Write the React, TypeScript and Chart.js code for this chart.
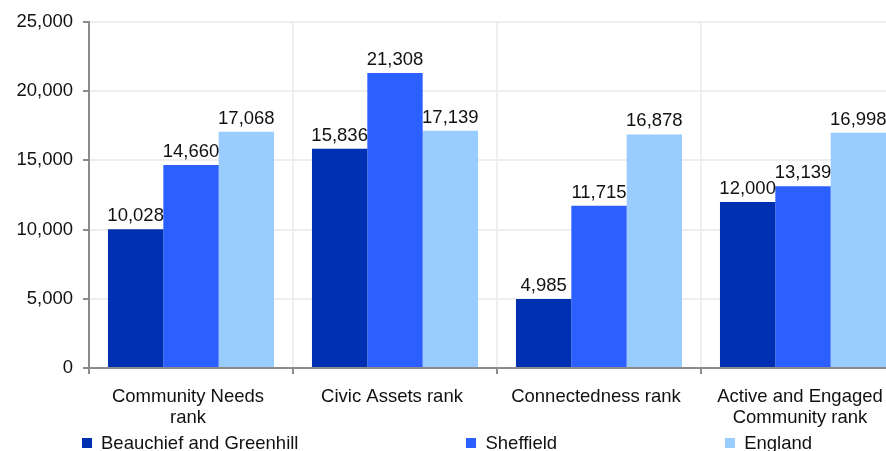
import React, { useEffect, useRef } from "react";
import { Chart, registerables } from "chart.js";

Chart.register(...registerables);

const categories: (string | string[])[] = [
  ["Community Needs", "rank"],
  "Civic Assets rank",
  "Connectedness rank",
  ["Active and Engaged", "Community rank"],
];
const seriesNames = ["Beauchief and Greenhill", "Sheffield", "England"];
const seriesColors = ["#0030B2", "#2C5FFF", "#99CCFF"];
const beauchief = [10028, 15836, 4985, 12000];
const sheffield = [14660, 21308, 11715, 13139];
const england = [17068, 17139, 16878, 16998];
const yTicks = [0, 5000, 10000, 15000, 20000, 25000];

const FONT = "'Liberation Sans', Arial, Helvetica, sans-serif";
const FS = 18.5;
const fmt = (v: number) => v.toLocaleString("en-US");

const valueLabels = {
  id: "valueLabels",
  afterDatasetsDraw(chart: any) {
    const ctx = chart.ctx;
    ctx.save();
    ctx.font = `${FS}px ${FONT}`;
    ctx.fillStyle = "#111";
    ctx.textAlign = "center";
    ctx.textBaseline = "alphabetic";
    chart.data.datasets.forEach((ds: any, i: number) => {
      const meta = chart.getDatasetMeta(i);
      meta.data.forEach((el: any, j: number) => {
        ctx.fillText(fmt(ds.data[j]), el.x, el.y - 8);
      });
    });
    ctx.restore();
  },
};

export default function App() {
  const ref = useRef<HTMLCanvasElement>(null);
  useEffect(() => {
    if (!ref.current) return;
    Chart.defaults.font.family = FONT;
    Chart.defaults.font.size = FS;
    Chart.defaults.color = "#111";
    const series = [beauchief, sheffield, england];
    const chart = new Chart(ref.current, {
      type: "bar",
      data: {
        labels: categories,
        datasets: series.map((d, i) => ({
          label: seriesNames[i],
          data: d,
          backgroundColor: seriesColors[i],
          borderWidth: 0,
          categoryPercentage: 0.814,
          barPercentage: 1,
        })),
      },
      options: {
        animation: false,
        responsive: false,
        maintainAspectRatio: false,
        devicePixelRatio: 1,
        layout: { padding: { top: 22, left: 0, right: 0, bottom: 0 } },
        plugins: { legend: { display: false }, tooltip: { enabled: false } },
        scales: {
          x: {
            grid: {
              color: "#eeeeee",
              lineWidth: 2,
              tickColor: "#8c8c8c",
              tickLength: 6,
              tickWidth: 2,
              offset: true,
            },
            border: { color: "#8c8c8c", width: 2 },
            ticks: {
              padding: 13,
              labelOffset: -3,
              font: { size: FS, lineHeight: 1.12 },
              color: "#111",
              maxRotation: 0,
              autoSkip: false,
            },
            afterFit: (s: any) => {
              s.height = 83;
            },
          },
          y: {
            min: yTicks[0],
            max: yTicks[yTicks.length - 1],
            afterBuildTicks: (s: any) => {
              s.ticks = yTicks.map((v) => ({ value: v }));
            },
            grid: {
              color: "#eeeeee",
              lineWidth: 2,
              tickColor: "#8c8c8c",
              tickLength: 6,
              tickWidth: 2,
            },
            border: { color: "#8c8c8c", width: 2 },
            ticks: {
              padding: 10,
              color: "#111",
              font: { size: FS },
              callback: (v: any) => fmt(Number(v)),
            },
            afterFit: (s: any) => {
              s.width = 89;
            },
          },
        },
      },
      plugins: [valueLabels],
    });
    return () => chart.destroy();
  }, []);

  return (
    <div style={{ position: "absolute", left: 0, top: 0, width: 886, height: 451, overflow: "hidden", background: "#fff" }}>
      <canvas ref={ref} width={905} height={451} style={{ display: "block", width: 905, height: 451 }} />
      <div
        style={{
          position: "absolute",
          top: 432,
          left: 82,
          display: "flex",
          gap: 168,
          fontFamily: FONT,
          fontSize: FS,
          lineHeight: "21px",
          color: "#111",
          whiteSpace: "nowrap",
        }}
      >
        {seriesNames.map((n, i) => (
          <div key={n} style={{ display: "flex", alignItems: "center" }}>
            <span style={{ display: "inline-block", width: 10, height: 10, background: seriesColors[i], marginRight: 9 }} />
            <span>{n}</span>
          </div>
        ))}
      </div>
    </div>
  );
}
